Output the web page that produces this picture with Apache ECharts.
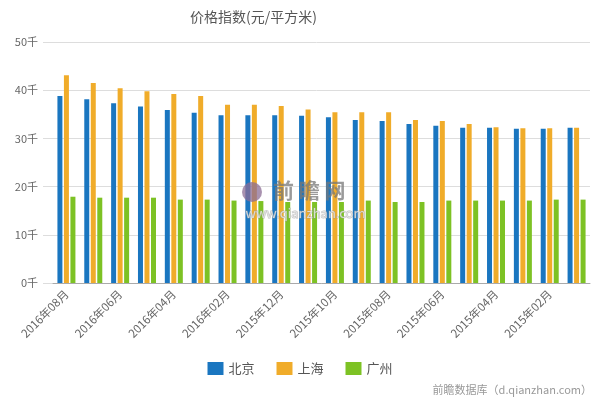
<!DOCTYPE html>
<html>
<head>
<meta charset="utf-8">
<script src="https://cdn.jsdelivr.net/npm/echarts@6/dist/echarts.min.js"></script>
<style>html,body{margin:0;padding:0;background:#fff}#c{width:600px;height:400px}</style>
</head>
<body>
<div id="c"></div>
<script>
const categories = ['2016年08月','2016年07月','2016年06月','2016年05月','2016年04月','2016年03月','2016年02月','2016年01月',
  '2015年12月','2015年11月','2015年10月','2015年09月','2015年08月','2015年07月','2015年06月','2015年05月',
  '2015年04月','2015年03月','2015年02月','2015年01月'];
const beijing  = [38800,38100,37300,36600,35900,35300,34800,34800,34800,34700,34400,33800,33600,33000,32600,32200,32200,32000,32000,32200];
const shanghai = [43100,41500,40400,39800,39200,38800,37000,37000,36700,36000,35400,35400,35400,33800,33600,33000,32300,32100,32100,32200];
const guangzhou= [17900,17700,17700,17700,17300,17300,17100,17000,16800,16800,16800,17100,16800,16800,17100,17100,17100,17100,17300,17300];
const seriesNames = ['北京','上海','广州'];
const yTicks = [0,10000,20000,30000,40000,50000];

const font = '"Noto Sans CJK SC", "Noto Sans", sans-serif';
const chart = echarts.init(document.getElementById('c'));
const barCommon = {type:'bar', xAxisIndex:1, yAxisIndex:1, barWidth:5, barGap:'30%', z:3};
chart.setOption({
  animation:false,
  title:{text:'价格指数(元/平方米)', left:185, top:5,
    textStyle:{fontFamily:font, fontSize:14, fontWeight:'normal', color:'#555'}},
  color:['#1a76c0','#f0ac2a','#7dc224'],
  legend:{data:seriesNames, bottom:20, left:'center', itemWidth:16, itemHeight:13, itemGap:22,
    icon:'rect', textStyle:{fontFamily:font, fontSize:13, color:'#555'}},
  grid:[
    {left:43, right:10, top:42, bottom:117},
    {left:53, right:10, top:42, bottom:117}
  ],
  xAxis:[
    {type:'category', gridIndex:0, data:categories, show:false},
    {type:'category', gridIndex:1, data:categories,
      axisLine:{lineStyle:{color:'#aaa'}},
      axisTick:{alignWithLabel:true, interval:1, length:5, lineStyle:{color:'#aaa'}},
      axisLabel:{interval:1, rotate:45, fontFamily:font, fontSize:11.5, color:'#666', margin:9}}
  ],
  yAxis:[
    {type:'value', gridIndex:0, min:yTicks[0], max:yTicks[yTicks.length-1], interval:10000,
      axisLabel:{formatter:v=>(v/1000)+'千', fontFamily:font, fontSize:11, color:'#666', margin:5},
      splitLine:{lineStyle:{color:'#ddd'}}, axisLine:{show:false}, axisTick:{show:false}},
    {type:'value', gridIndex:1, min:yTicks[0], max:yTicks[yTicks.length-1], interval:10000, show:false, splitLine:{show:false}}
  ],
  series:[
    Object.assign({name:seriesNames[0], data:beijing}, barCommon),
    Object.assign({name:seriesNames[1], data:shanghai}, barCommon),
    Object.assign({name:seriesNames[2], data:guangzhou}, barCommon)
  ],
  graphic:[
    {type:'circle', shape:{cx:252, cy:192, r:10}, style:{fill:'rgba(140,110,150,0.75)'}, z:10},
    {type:'text', left:273, top:180, z:10,
      style:{text:'前 瞻 网', font:'bold 21px ' + font, fill:'rgba(120,120,120,0.75)'}},
    {type:'text', left:245, top:206, z:10,
      style:{text:'www.qianzhan.com', font:'13px ' + font, fill:'rgba(235,235,235,0.8)',
        stroke:'rgba(150,150,150,0.6)', lineWidth:1}},
    {type:'text', right:8, top:384, z:10,
      style:{text:'前瞻数据库（d.qianzhan.com）', font:'11px ' + font, fill:'#999'}}
  ]
});
</script>
</body>
</html>
